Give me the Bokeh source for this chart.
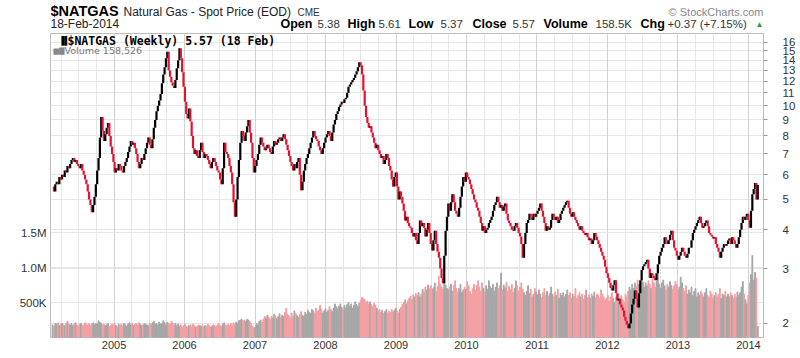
import pandas as pd
from bokeh.plotting import figure
from bokeh.layouts import column
from bokeh.models import (Range1d, LinearAxis, LinearScale, FixedTicker,
                          PrintfTickFormatter, Grid, Label, ColumnDataSource)
from bokeh.embed import file_html
from bokeh.resources import INLINE

# ---------------- data (weekly closes, $/MMBtu) ----------------
closes = [
    5.5, 5.3, 5.6, 5.7, 5.6, 5.9, 5.8, 6.0, 5.9, 6.2,
    6.1, 6.4, 6.3, 6.5, 6.7, 6.8, 6.6, 6.7, 6.5, 6.4,
    6.3, 6.5, 6.2, 6.0, 5.8, 5.6, 5.3, 5.0, 4.8, 4.55,
    4.8, 5.1, 5.6, 6.2, 6.8, 7.9, 9.2, 8.3, 7.7, 8.1,
    8.5, 8.8, 8.0, 7.4, 7.0, 6.6, 6.1, 6.3, 6.2, 6.5,
    6.4, 6.2, 6.1, 6.4, 6.6, 6.8, 7.1, 7.4, 7.7, 7.5,
    7.6, 7.3, 7.0, 6.6, 6.3, 6.5, 6.8, 6.7, 7.0, 7.3,
    7.6, 7.9, 7.5, 7.3, 7.8, 8.5, 9.0, 9.6, 10.0, 10.4,
    10.9, 11.8, 12.6, 13.3, 14.2, 14.9, 13.0, 12.4, 11.9, 11.6,
    11.4, 12.1, 13.2, 14.0, 15.3, 14.2, 12.8, 11.5, 10.3, 9.4,
    9.1, 9.8, 8.9, 8.0, 7.3, 7.0, 7.2, 6.9, 6.8, 7.2,
    7.6, 7.1, 6.8, 7.0, 6.9, 6.7, 6.5, 6.3, 6.6, 6.8,
    6.6, 6.4, 6.2, 6.1, 5.8, 5.6, 6.3, 7.6, 7.1, 7.0,
    6.8, 6.4, 6.1, 5.6, 4.9, 4.4, 5.0, 5.9, 6.7, 7.6,
    8.3, 8.0, 7.7, 8.2, 8.6, 9.0, 8.2, 7.6, 6.8, 6.1,
    6.4, 6.7, 7.0, 7.5, 7.9, 7.6, 7.4, 7.2, 7.3, 7.5,
    7.3, 7.1, 7.0, 7.4, 7.7, 7.5, 7.6, 7.8, 7.9, 7.7,
    7.9, 8.1, 7.8, 7.5, 7.2, 6.9, 6.6, 6.4, 6.2, 6.5,
    6.3, 6.6, 6.8, 6.0, 5.35, 5.7, 6.2, 6.5, 6.8, 7.0,
    7.3, 7.6, 7.9, 8.3, 8.0, 7.8, 7.7, 7.4, 7.2, 7.0,
    7.3, 7.6, 7.9, 8.1, 8.3, 8.0, 7.7, 8.2, 8.7, 9.0,
    9.4, 9.6, 9.9, 10.1, 10.3, 10.2, 10.5, 10.6, 11.0, 11.5,
    11.7, 11.9, 12.1, 12.3, 12.6, 12.9, 13.3, 13.8, 13.5, 12.6,
    11.2, 10.0, 9.2, 8.8, 8.5, 8.6, 8.2, 7.9, 7.6, 7.3,
    7.5, 7.2, 7.0, 6.8, 6.9, 6.5, 6.7, 7.0, 6.8, 6.4,
    6.2, 5.8, 5.5, 5.9, 6.1, 5.5, 5.0, 5.3, 5.1, 4.85,
    4.6, 4.28, 4.4, 4.2, 4.1, 4.06, 3.9, 3.8, 3.9, 3.7,
    3.6, 3.9, 4.28, 4.1, 4.2, 4.06, 3.8, 4.0, 4.2, 3.9,
    3.6, 3.43, 3.7, 3.97, 3.6, 3.4, 3.25, 3.0, 2.8, 2.69,
    3.3, 3.97, 4.4, 4.85, 4.6, 4.9, 5.2, 4.9, 4.6, 4.5,
    4.4, 4.7, 5.1, 5.5, 5.9, 5.7, 6.1, 5.9, 5.8, 5.6,
    5.4, 5.2, 5.0, 4.9, 4.7, 4.6, 4.4, 4.2, 3.97, 4.1,
    3.9, 4.0, 4.06, 4.2, 4.3, 4.4, 4.6, 4.8, 4.9, 5.1,
    4.9, 4.7, 4.8, 4.6, 4.75, 4.85, 4.5, 4.28, 4.2, 4.1,
    4.0, 3.97, 4.1, 4.2, 4.06, 3.9, 3.8, 3.6, 3.25, 3.6,
    3.9, 4.2, 4.3, 4.5, 4.4, 4.3, 4.5, 4.4, 4.5, 4.6,
    4.7, 4.85, 4.6, 4.4, 4.2, 3.97, 4.1, 4.0, 4.06, 4.3,
    4.5, 4.4, 4.3, 4.4, 4.2, 4.3, 4.5, 4.6, 4.7, 4.8,
    4.9, 4.95, 4.7, 4.5, 4.4, 4.55, 4.4, 4.3, 4.2, 4.1,
    4.0, 4.1, 3.97, 3.9, 3.85, 3.9, 3.78, 3.7, 3.75, 3.6,
    3.7, 3.9, 3.8, 3.7, 3.6, 3.5, 3.4, 3.3, 3.2, 3.04,
    2.9, 2.8, 2.7, 2.6, 2.55, 2.65, 2.75, 2.5, 2.37, 2.4,
    2.3, 2.25, 2.2, 2.1, 2.04, 1.98, 1.93, 2.0, 2.15, 2.3,
    2.4, 2.55, 2.4, 2.25, 2.5, 2.75, 2.97, 3.05, 3.1, 3.15,
    3.2, 3.0, 2.8, 2.9, 2.85, 2.8, 2.75, 2.9, 3.1, 3.3,
    3.4, 3.5, 3.6, 3.78, 3.7, 3.6, 3.7, 3.85, 3.97, 3.7,
    3.5, 3.43, 3.3, 3.2, 3.3, 3.4, 3.5, 3.4, 3.3, 3.25,
    3.35, 3.5, 3.5, 3.7, 3.9, 4.0, 4.1, 4.2, 4.3, 4.4,
    4.2, 4.06, 4.1, 4.2, 4.28, 4.1, 3.9, 3.85, 3.8, 3.75,
    3.78, 3.6, 3.5, 3.4, 3.25, 3.4, 3.5, 3.6, 3.55, 3.6,
    3.69, 3.75, 3.6, 3.78, 3.7, 3.6, 3.5, 3.6, 3.78, 4.0,
    4.2, 4.4, 4.3, 4.4, 4.5, 4.3, 4.06, 4.6, 5.2, 5.4,
    5.65, 5.0, 5.57,
]

# weekly volume, thousands
volumes_k = [
    180, 160, 200, 190, 210, 170, 190, 200, 180, 170,
    200, 230, 190, 180, 200, 170, 190, 210, 180, 160,
    190, 200, 170, 180, 210, 190, 180, 200, 170, 190,
    210, 180, 200, 190, 240, 220, 200, 180, 190, 170,
    180, 200, 160, 170, 190, 180, 200, 170, 150, 190,
    180, 190, 170, 200, 180, 160, 190, 210, 180, 200,
    170, 190, 200, 180, 210, 190, 170, 180, 200, 190,
    180, 170, 200, 190, 210, 230, 190, 200, 180, 220,
    190, 200, 240, 210, 180, 220, 200, 190, 230, 210,
    180, 200, 170, 190, 160, 180, 150, 170, 190, 160,
    150, 170, 180, 160, 190, 170, 150, 160, 180, 170,
    160, 180, 150, 170, 160, 190, 170, 150, 160, 180,
    170, 160, 180, 200, 170, 160, 190, 210, 180, 170,
    190, 170, 200, 180, 210, 190, 220, 200, 240, 250,
    260, 240, 250, 230, 260, 250, 230, 200, 160, 140,
    150, 200, 180, 230, 250, 220, 260, 300, 280, 320,
    290, 260, 300, 280, 330, 310, 270, 300, 340, 290,
    320, 300, 360, 420, 330, 310, 280, 350, 300, 380,
    340, 310, 290, 330, 370, 320, 300, 360, 330, 390,
    360, 340, 400, 380, 350, 420, 370, 390, 460, 400,
    350, 380, 410, 360, 390, 440, 400, 370, 420, 480,
    440, 410, 450, 480, 430, 400, 460, 420, 470, 500,
    450, 480, 420, 460, 510, 470, 440, 490, 530, 575,
    560, 540, 500, 520, 480, 510, 470, 440, 490, 460,
    420, 380, 400, 360, 390, 340, 370, 400, 350, 380,
    360, 400, 370, 390, 420, 380, 350, 400, 430, 470,
    500, 540, 480, 520, 560, 590, 540, 610, 580, 630,
    600, 640, 580, 620, 690, 650, 720, 680, 750, 700,
    740, 690, 710, 780, 660, 730, 870, 760, 720, 690,
    800, 750, 700, 680, 720, 760, 660, 740, 810, 700,
    650, 700, 760, 640, 680, 720, 690, 800, 740, 660,
    620, 700, 760, 680, 740, 810, 720, 660, 780, 700,
    650, 740, 690, 810, 730, 700, 760, 660, 720, 780,
    700, 740, 920, 680, 750, 710, 790, 660, 730, 690,
    760, 640, 700, 810, 740, 660, 720, 780, 690, 640,
    600, 660, 740, 630, 690, 580, 620, 700, 650, 610,
    680, 620, 570, 640, 700, 600, 660, 590, 630, 720,
    620, 580, 650, 600, 690, 560, 630, 600, 640, 580,
    620, 680, 600, 640, 560, 620, 590, 700, 560, 600,
    640, 580, 620, 550, 600, 680, 570, 610, 560, 620,
    590, 650, 570, 620, 600, 560, 680, 620, 580, 540,
    560, 600, 520, 580, 640, 560, 500, 580, 520, 620,
    560, 600, 540, 500, 620, 580, 660, 720, 680, 760,
    700, 780, 740, 820, 760, 700, 840, 790, 720, 780,
    740, 810, 760, 700, 860, 780, 720, 800, 950, 760,
    700, 780, 820, 740, 680, 760, 720, 800, 740, 690,
    740, 800, 760, 680, 720, 860, 780, 700, 660, 740,
    620, 680, 640, 720, 600, 660, 700, 580, 640, 600,
    660, 620, 580, 640, 700, 600, 580, 660, 620, 560,
    600, 640, 580, 620, 700, 560, 620, 600, 660, 580,
    620, 580, 640, 600, 560, 620, 580, 650, 600, 640,
    720, 800, 620, 540, 480, 600, 780, 900, 1170, 820,
    930, 850, 159,
]

last_week = "2014-02-18"
price_ticks = [2, 3, 4, 5, 6, 7, 8, 9, 10, 11, 12, 13, 14, 15, 16]
vol_ticks = [500000, 1000000, 1500000]
vol_tick_labels = ["500K", "1.0M", "1.5M"]
year_ticks = [2005, 2006, 2007, 2008, 2009, 2010, 2011, 2012, 2013, 2014]

# ---------------- derived columns ----------------
n = min(len(closes), len(volumes_k))
closes = closes[:n]
volumes_k = volumes_k[:n]
dates = pd.date_range(end=last_week, periods=n, freq="7D")
xs = [d.year + (d.dayofyear - 1) / 365.25 for d in dates]
opens = [closes[0]] + closes[:-1]
his = [max(o, c) for o, c in zip(opens, closes)]
los = [min(o, c) for o, c in zip(opens, closes)]
up = [c >= o for o, c in zip(opens, closes)]
RED = "#e3112f"
pcol = ["#000000" if u else RED for u in up]
vcol = ["#a5a5a5" if u else "#f29ea3" for u in up]
vols = [v * 1000 for v in volumes_k]

src = ColumnDataSource(dict(x=xs, hi=his, lo=los, pcol=pcol, vcol=vcol, vol=vols))

FONT = "Liberation Sans"
TXT = "#333333"
HEAD_H = 32
FL, FR = 50, 763          # frame left / right edge in page pixels

# ---------------- header strip ----------------
h = figure(width=800, height=HEAD_H, x_range=Range1d(FL, FR),
           y_range=Range1d(0, HEAD_H), x_axis_type=None, y_axis_type=None,
           output_backend="svg", toolbar_location=None, title=None,
           min_border_left=FL, min_border_right=800 - FR,
           min_border_top=0, min_border_bottom=0)
h.outline_line_color = None
h.grid.visible = False


def hl(text, X, Y, size, color="#222222", bold=False, align="left", font=FONT):
    h.add_layout(Label(x=X, y=HEAD_H - Y, text=text, text_font=font,
                       text_font_size=f"{size}px",
                       text_font_style="bold" if bold else "normal",
                       text_color=color, text_align=align,
                       text_baseline="middle"))


ROW2 = 23.5
hl("$NATGAS", 50, 10.5, 14.5, "#000000", bold=True)
hl("Natural Gas - Spot Price (EOD)", 123, 11.5, 12, "#222222")
hl("CME", 297, 12, 10, "#333333")
hl("\u00a9 StockCharts.com", 763, 11, 11, "#888888", align="right")
hl("18-Feb-2014", 50, ROW2, 12, "#222222")
hdr = [("Open", 280, True), ("5.38", 317, False), ("High", 347, True),
       ("5.61", 378, False), ("Low", 408, True), ("5.37", 440, False),
       ("Close", 472, True), ("5.57", 512, False), ("Volume", 543, True),
       ("158.5K", 595, False), ("Chg", 640, True), ("+0.37 (+7.15%)", 667, False)]
for t, X, b in hdr:
    hl(t, X, ROW2, 12.5 if b else 11.5, "#000000" if b else "#333333", bold=b)
hl("\u25b2", 755, ROW2, 8, "#1f9a3c")

# ---------------- main chart ----------------
p = figure(width=800, height=358 - HEAD_H, title=None,
           x_range=Range1d(2004.099, 2014.213),
           y_range=Range1d(1.802, 17.06), y_axis_type="log",
           y_axis_location="right",
           output_backend="svg", toolbar_location=None,
           min_border_left=FL, min_border_right=800 - FR,
           min_border_top=1, min_border_bottom=21)
p.background_fill_color = "white"
p.border_fill_color = "white"
p.outline_line_color = "#bcbcbc"

p.extra_y_ranges = {"vol": Range1d(0, 4.343e6)}
p.extra_y_scales = {"vol": LinearScale()}

# grids
quarters = [y + q / 4 for y in range(2004, 2015) for q in range(4)]
p.xgrid.ticker = FixedTicker(ticks=quarters)
p.xgrid.grid_line_color = "#e6e6e6"
p.add_layout(Grid(dimension=0, ticker=FixedTicker(ticks=year_ticks),
                  grid_line_color="#d2d2d2"))
p.ygrid.ticker = FixedTicker(ticks=price_ticks)
p.ygrid.grid_line_color = "#e6e6e6"
p.add_layout(Grid(dimension=1, ticker=FixedTicker(ticks=vol_ticks),
                  y_range_name="vol", grid_line_color="#e6e6e6"))

# right price axis
ya = p.yaxis[0]
ya.ticker = FixedTicker(ticks=price_ticks)
ya.formatter = PrintfTickFormatter(format="%d")
ya.axis_line_color = None
ya.major_tick_out = 4
ya.major_tick_in = 0
ya.major_tick_line_color = "#999999"
ya.minor_tick_line_color = None
ya.major_label_standoff = 15
ya.major_label_text_align = "right"
ya.major_label_text_font = FONT
ya.major_label_text_font_size = "11.5px"
ya.major_label_text_color = TXT

# left volume axis
va = LinearAxis(y_range_name="vol", ticker=FixedTicker(ticks=vol_ticks),
                major_label_overrides=dict(zip(vol_ticks, vol_tick_labels)))
va.axis_line_color = None
va.major_tick_out = 0
va.major_tick_in = 0
va.minor_tick_line_color = None
va.major_label_standoff = 4
va.major_label_text_font = FONT
va.major_label_text_font_size = "11.5px"
va.major_label_text_color = TXT
p.add_layout(va, "left")

# bottom year axis
xa = p.xaxis[0]
xa.ticker = FixedTicker(ticks=year_ticks)
xa.formatter = PrintfTickFormatter(format="%d")
xa.axis_line_color = None
xa.major_tick_out = 0
xa.major_tick_in = 0
xa.minor_tick_line_color = None
xa.major_label_standoff = 3
xa.major_label_text_font = FONT
xa.major_label_text_font_size = "11px"
xa.major_label_text_color = TXT

# marks
wk = 7 / 365.25
p.vbar(x="x", top="vol", bottom=0, width=wk * 0.6, color="vcol",
       y_range_name="vol", source=src)
p.segment(x0="x", y0="lo", x1="x", y1="hi", color="pcol", line_width=2.2,
          source=src)


def lab(text, X, Y, size, color="#222222", bold=False, align="left", font=FONT):
    # positions relative to the plot frame (frame spans page x 50..763, y 33..337)
    p.add_layout(Label(x=X - FL, y=337 - Y, x_units="screen", y_units="screen",
                       text=text, text_font=font, text_font_size=f"{size}px",
                       text_font_style="bold" if bold else "normal",
                       text_color=color, text_align=align,
                       text_baseline="middle"))


lab("$NATGAS (Weekly) 5.57 (18 Feb)", 67, 40, 11.5, "#000000", bold=True,
    font="DejaVu Sans Mono")
lab("\u2590\u258c", 58, 40, 8, "#000000")
lab("\u2586\u2587", 53, 50, 7, "#888888", font="DejaVu Sans")
lab("Volume 158,526", 64, 50, 9.5, "#777777", font="DejaVu Sans")

layout = column(h, p, spacing=0)
open("out.html", "w").write(file_html(layout, INLINE))
